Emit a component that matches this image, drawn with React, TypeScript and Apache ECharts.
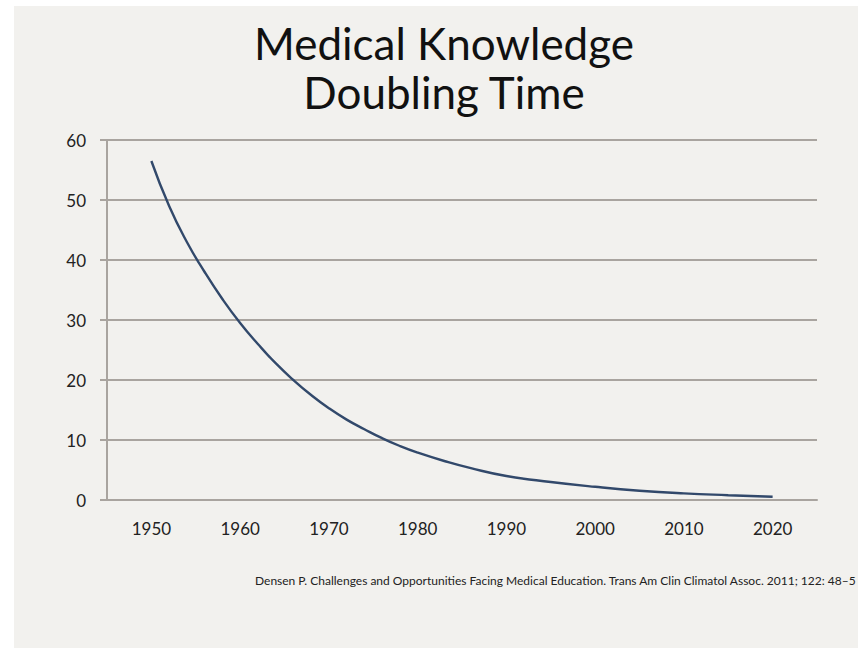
import React, { useEffect, useRef } from "react";
import * as echarts from "echarts";

const tickLabels = ["1950", "1960", "1970", "1980", "1990", "2000", "2010", "2020"];
const years = [
  1950, 1952, 1954, 1956, 1958, 1960, 1962, 1964, 1966, 1968, 1970, 1972, 1974, 1976, 1978, 1980,
  1983, 1986, 1990, 1995, 2000, 2005, 2010, 2015, 2020,
];
const doublingTime = [
  56.5, 49, 43, 38, 33.5, 29.5, 26, 22.8, 20, 17.5, 15.3, 13.4, 11.8, 10.3, 9.0, 7.9,
  6.5, 5.3, 4.0, 3.0, 2.2, 1.55, 1.1, 0.8, 0.55,
];
const titleLines = ["Medical Knowledge", "Doubling Time"];
const citation =
  "Densen P. Challenges and Opportunities Facing Medical Education. Trans Am Clin Climatol Assoc. 2011; 122: 48–5";

const GRID = "#a9a49f";
const FONT = "Lato, 'Open Sans', sans-serif";

export default function App() {
  const ref = useRef<HTMLDivElement>(null);
  useEffect(() => {
    if (!ref.current) return;
    const chart = echarts.init(ref.current, undefined, { renderer: "svg" });
    chart.setOption({
      animation: false,
      backgroundColor: "#f2f1ee",
      graphic: [
        {
          type: "text",
          x: 430,
          y: 12,
          style: {
            text: titleLines.join("\n"),
            align: "center",
            verticalAlign: "top",
            font: `44px ${FONT}`,
            lineHeight: 49,
            fill: "#111",
          },
        },
        {
          type: "text",
          x: 241,
          y: 568,
          style: {
            text: citation,
            font: `12px ${FONT}`,
            verticalAlign: "top",
            fill: "#222",
          },
        },
      ],
      grid: { left: 93, right: 41, top: 134, bottom: 148, containLabel: false },
      xAxis: [
        {
          type: "category",
          data: tickLabels,
          boundaryGap: true,
          axisLine: { show: true, lineStyle: { color: GRID, width: 2 } },
          axisTick: { show: false },
          axisLabel: { margin: 20, fontFamily: FONT, fontSize: 17, color: "#222" },
          splitLine: { show: false },
        },
        {
          type: "value",
          min: 1945,
          max: 2025,
          show: false,
          splitLine: { show: false },
        },
      ],
      yAxis: {
        type: "value",
        min: 0,
        max: 60,
        interval: 10,
        axisLine: { show: true, lineStyle: { color: GRID, width: 2 } },
        axisTick: { show: true, length: 7, lineStyle: { color: GRID, width: 2 } },
        axisLabel: { margin: 21, fontFamily: FONT, fontSize: 17, color: "#222" },
        splitLine: { show: true, lineStyle: { color: GRID, width: 2 } },
      },
      series: [
        {
          type: "line",
          xAxisIndex: 1,
          data: years.map((y, i) => [y, doublingTime[i]]),
          smooth: 0.5,
          showSymbol: false,
          lineStyle: { color: "#32496b", width: 2.4 },
        },
      ],
    });
    return () => chart.dispose();
  }, []);
  return (
    <div
      ref={ref}
      style={{ position: "fixed", left: 14, top: 6, width: 844, height: 642 }}
    />
  );
}
